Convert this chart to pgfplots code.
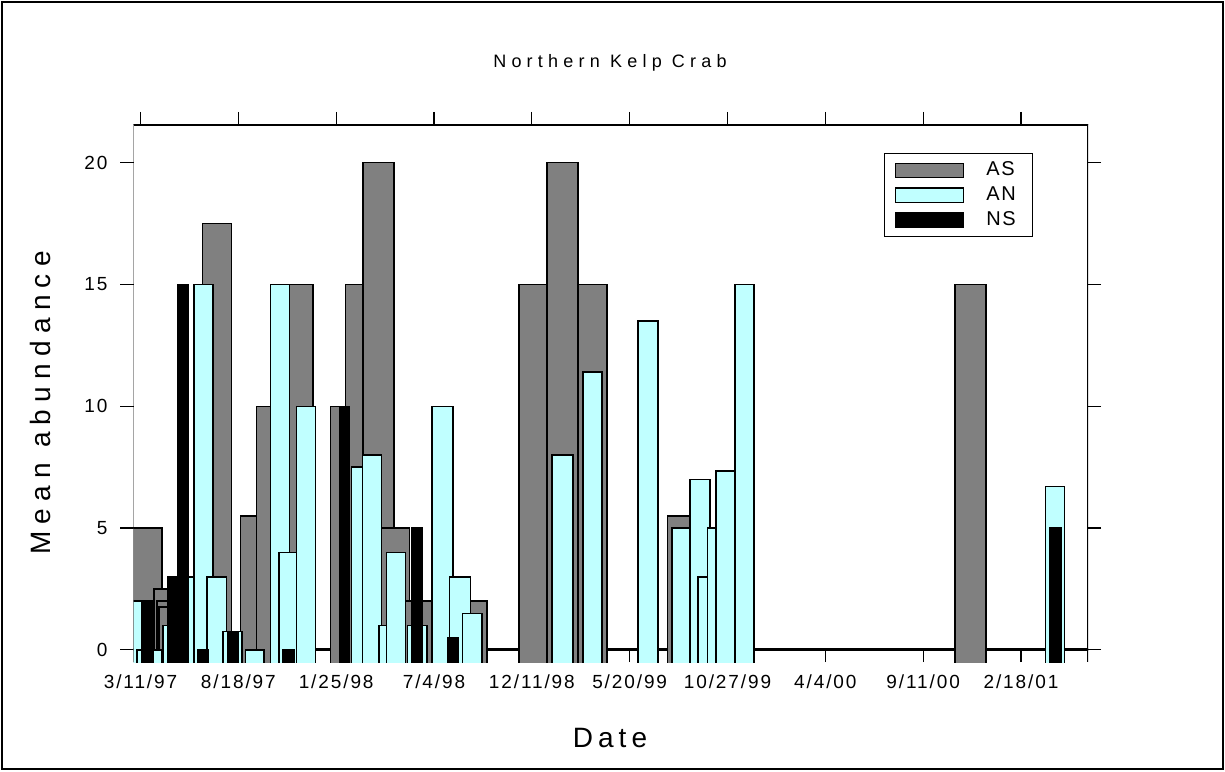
\documentclass[border=0pt]{standalone}
\usepackage{pgfplots}
\pgfplotsset{compat=1.18}
\usepackage{fontspec}
\setmainfont{Liberation Sans}
\definecolor{asgray}{RGB}{128,128,128}
\definecolor{ancyan}{RGB}{192,255,255}
% one bar: colour, left day, right day, value (bars start below the zero line)
\newcommand{\bx}[4]{\addplot[draw=black, line width=0.75pt, fill=#1, forget plot]
  coordinates {(#2,-0.7) (#2,#4) (#3,#4) (#3,-0.7)} -- cycle;}

\begin{document}
\begin{tikzpicture}
\useasboundingbox (0,0) rectangle (612.5pt,385.5pt);
\draw[line width=0.6pt] (1pt,1pt) rectangle (611.5pt,384.5pt);

\node[font=\fontsize{9}{10}\selectfont\addfontfeatures{LetterSpace=29}] at (305pt,354pt) {Northern Kelp Crab};
\node[font=\fontsize{14}{15}\selectfont\addfontfeatures{LetterSpace=18}] at (305pt,16.5pt) {Date};
\node[font=\fontsize{14}{15}\selectfont\addfontfeatures{LetterSpace=26}, rotate=90] at (20pt,184pt) {Mean abundance};

% x in days after 3/11/97
\begin{axis}[
  at={(66.75pt,54.5pt)}, anchor=south west,
  scale only axis, width=477.25pt, height=268.5pt,
  xmin=-11.5, xmax=1549.6, ymin=-0.5, ymax=21.55,
  axis line style={draw=none},
  xtick={0,160,...,1440},
  xticklabels={3/11/97,8/18/97,1/25/98,7/4/98,12/11/98,5/20/99,10/27/99,4/4/00,9/11/00,2/18/01},
  xtick pos=left, xtick align=inside,
  ytick={0,5,10,15,20}, ytick pos=both, ytick align=outside,
  yticklabel pos=left,
  major tick length=6.5pt,
  tick style={black, line width=0.6pt},
  tick label style={font=\fontsize{9.5}{10}\selectfont\addfontfeatures{LetterSpace=10}},
  /pgf/number format/assume math mode=true,
  xticklabel style={yshift=-3pt},
  yticklabel style={xshift=-3pt},
  legend image code/.code={\draw[#1, line width=0.6pt] (0pt,-3.6pt) rectangle (34pt,3.6pt);},
  legend style={at={(0.9424,0.9473)}, anchor=north east, draw=black, line width=0.6pt,
    font=\fontsize{10}{11}\selectfont\addfontfeatures{LetterSpace=8},
    row sep=0pt, inner xsep=5.15pt, inner ysep=2pt,
    nodes={inner xsep=3.2pt},
    /tikz/every odd column/.append style={column sep=7.8pt}},
  legend cell align=left,
]
\addlegendimage{fill=asgray, draw=black}
\addlegendentry{AS}
\addlegendimage{fill=ancyan, draw=black}
\addlegendentry{AN}
\addlegendimage{fill=black, draw=black}
\addlegendentry{NS}

\addplot[line width=1.5pt, forget plot] coordinates {(-20,0) (1600,0)};

% AS
\bx{asgray}{-40}{34.9}{5}
\bx{asgray}{21.8}{47.5}{2.5}
\bx{asgray}{27.3}{50.7}{2}
\bx{asgray}{29.9}{54.0}{1.75}
\bx{asgray}{101.0}{148.4}{17.5}
\bx{asgray}{163.1}{189.3}{5.5}
\bx{asgray}{189.3}{212.7}{10}
\bx{asgray}{234.0}{282.0}{15}
\bx{asgray}{310.4}{345.3}{10}
\bx{asgray}{335.5}{363.8}{15}
\bx{asgray}{363.8}{414.5}{20}
\bx{asgray}{393.9}{440.2}{5}
\bx{asgray}{433.2}{479.5}{2}
\bx{asgray}{518.7}{566.7}{2}
\bx{asgray}{618.6}{664.9}{15}
\bx{asgray}{664.9}{715.6}{20}
\bx{asgray}{715.6}{763.1}{15}
\bx{asgray}{861.9}{908.2}{5.5}
\bx{asgray}{1332.0}{1382.8}{15}

% AN
\bx{ancyan}{-40}{2.8}{2}
\bx{ancyan}{-6.1}{2.1}{0}
\bx{ancyan}{20.1}{34.9}{0}
\bx{ancyan}{36.5}{50.7}{1}
\bx{ancyan}{55.6}{86.7}{3}
\bx{ancyan}{87.2}{118.3}{15}
\bx{ancyan}{108.5}{140.2}{3}
\bx{ancyan}{134.7}{165.8}{0.75}
\bx{ancyan}{171.8}{201.8}{0}
\bx{ancyan}{212.7}{243.8}{15}
\bx{ancyan}{226.3}{254.8}{4}
\bx{ancyan}{254.8}{286.4}{10}
\bx{ancyan}{344.8}{362.8}{7.5}
\bx{ancyan}{362.8}{393.9}{8}
\bx{ancyan}{390.0}{402.1}{1}
\bx{ancyan}{402.1}{433.2}{4}
\bx{ancyan}{436.4}{468.5}{1}
\bx{ancyan}{476.7}{511.1}{10}
\bx{ancyan}{505.6}{540.0}{3}
\bx{ancyan}{526.4}{558.5}{1.5}
\bx{ancyan}{673.1}{707.4}{8}
\bx{ancyan}{723.8}{754.9}{11.4}
\bx{ancyan}{813.3}{846.0}{13.5}
\bx{ancyan}{869.4}{898.4}{5}
\bx{ancyan}{898.4}{931.1}{7}
\bx{ancyan}{912.0}{927.3}{3}
\bx{ancyan}{927.3}{940.9}{5}
\bx{ancyan}{940.9}{972.0}{7.35}
\bx{ancyan}{972.0}{1003.6}{15}
\bx{ancyan}{1480.4}{1510.9}{6.7}

% NS
\bx{black}{2.8}{20.1}{2}
\bx{black}{44.7}{61.0}{3}
\bx{black}{60.1}{78.5}{15}
\bx{black}{93.8}{111.3}{0}
\bx{black}{141.9}{159.2}{0.75}
\bx{black}{232.9}{252.0}{0}
\bx{black}{325.6}{342.0}{10}
\bx{black}{443.0}{460.3}{5}
\bx{black}{502.9}{520.4}{0.5}
\bx{black}{1486.3}{1505.5}{5}
\end{axis}

% frame and top ticks
\begin{axis}[
  at={(66.75pt,54.5pt)}, anchor=south west,
  scale only axis, width=477.25pt, height=268.5pt,
  xmin=-11.5, xmax=1549.6, ymin=-0.5, ymax=21.55,
  axis line style={draw=none},
  xtick={0,160,...,1440}, xticklabels={},
  xtick pos=right, xtick align=outside,
  ytick=\empty,
  major tick length=6.5pt,
  tick style={black, line width=0.6pt},
]
\draw[line width=0.75pt] (rel axis cs:0,0) -- (rel axis cs:0,1) -- (rel axis cs:1,1) -- (rel axis cs:1,0);
\draw[line width=0.6pt] (rel axis cs:0,1) -- ++(0,6.5pt);
\draw[line width=0.6pt] (rel axis cs:1,1) -- ++(0,6.5pt);
\end{axis}
\end{tikzpicture}
\end{document}
